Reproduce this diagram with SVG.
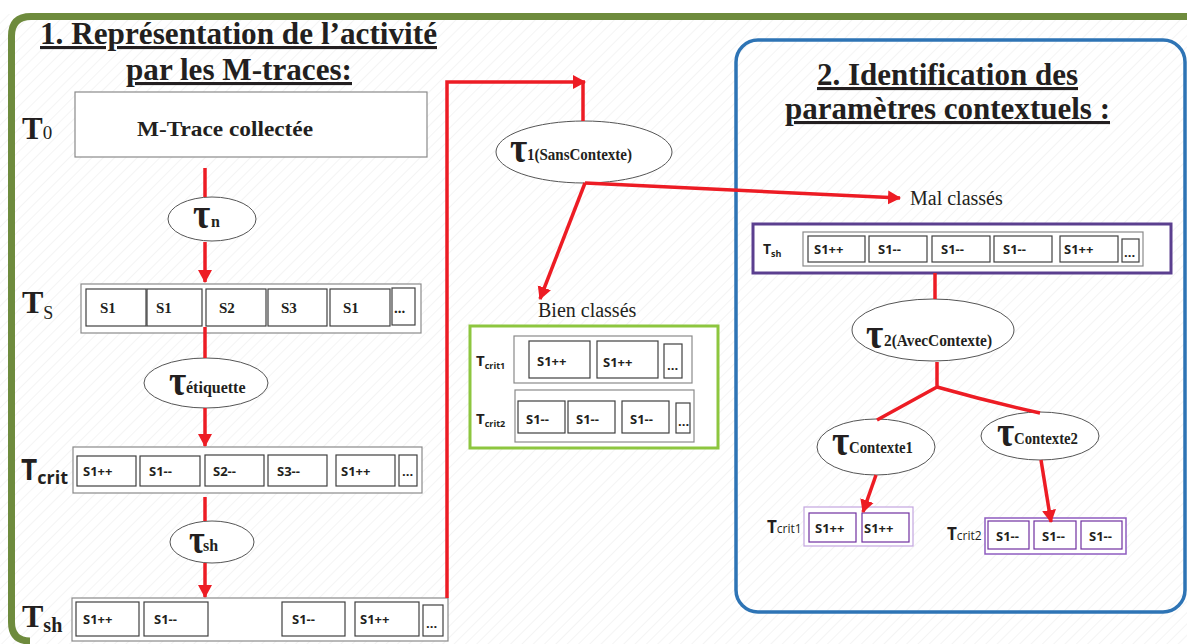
<svg xmlns="http://www.w3.org/2000/svg" width="1187" height="644" viewBox="0 0 1187 644">
<defs>
<pattern id="hatch" width="8" height="8" patternUnits="userSpaceOnUse" patternTransform="rotate(45)">
<line x1="0" y1="0" x2="0" y2="8" stroke="#e4e4e4" stroke-width="0.8"/>
</pattern>
<marker id="arr" markerWidth="16" markerHeight="16" refX="12" refY="8" orient="auto" markerUnits="userSpaceOnUse">
<path d="M0,1 L13,8 L0,15 Z" fill="#ed1c24"/>
</marker>
<style>
.title{font-family:"Liberation Serif",serif;font-weight:bold;font-size:31px;fill:#231f20;text-decoration:underline}
.ser{font-family:"Liberation Serif",serif;fill:#231f20}
.b{font-weight:bold}
.sans{font-family:"Open Sans","Liberation Sans",sans-serif;fill:#231f20}
.cell{fill:#fff;stroke:#404040;stroke-width:1.2}
.outer{fill:#fff;stroke:#8a8a8a;stroke-width:1.2}
.ct{font-family:"Open Sans","Liberation Sans",sans-serif;font-weight:bold;font-size:13px;fill:#231f20}
.ell{fill:#fff;stroke:#555;stroke-width:1}
.tau{font-family:"Liberation Serif",serif;font-weight:bold;font-size:34px;fill:#231f20}
.sub{font-family:"Liberation Serif",serif;font-weight:bold;font-size:16px;fill:#231f20}
.red{stroke:#ed1c24;stroke-width:3.5;fill:none}
</style>
</defs>
<rect x="0" y="0" width="1187" height="644" fill="#fff"/>
<rect x="0" y="14" width="1187" height="630" fill="url(#hatch)"/>

<path d="M30,641 Q11.5,641 11.5,622 V36 Q11.5,16.5 31,16.5 H1190" fill="none" stroke="#6e8b3d" stroke-width="7"/>
<rect x="736" y="40" width="449" height="572" rx="22" fill="none" stroke="#2e74b5" stroke-width="3.5"/>

<g id="title1">
<text class="title" x="40" y="44" textLength="397" lengthAdjust="spacingAndGlyphs">1. Représentation de l’activité</text>
<text class="title" x="126" y="80" textLength="226" lengthAdjust="spacingAndGlyphs">par les M-traces:</text>
</g>
<g id="title2">
<text class="title" x="817" y="85" textLength="261" lengthAdjust="spacingAndGlyphs">2. Identification des</text>
<text class="title" x="785" y="119" textLength="325" lengthAdjust="spacingAndGlyphs">paramètres contextuels :</text>
</g>

<g id="T0">
<rect class="outer" x="75" y="92" width="352" height="65"/>
<text class="ser b" x="137" y="136" font-size="22" textLength="176" lengthAdjust="spacingAndGlyphs">M-Trace collectée</text>
<text class="ser" x="22" y="139"><tspan class="b" font-size="31">T</tspan><tspan font-size="19">0</tspan></text>
</g>

<g id="tau_n">
<ellipse class="ell" cx="212" cy="219" rx="44" ry="22"/>
<text class="tau" transform="translate(193,228) scale(1.1,1.3)">τ</text>
<text class="sub" x="211" y="227" font-size="13">n</text>
</g>

<g id="Ts">
<rect class="outer" x="81" y="284" width="340" height="49"/>
<rect class="cell" x="86" y="289" width="60" height="37"/>
<rect class="cell" x="147" y="289" width="55" height="37"/>
<rect class="cell" x="206" y="289" width="60" height="37"/>
<rect class="cell" x="268" y="289" width="59" height="37"/>
<rect class="cell" x="330" y="289" width="60" height="37"/>
<rect class="cell" x="392" y="288" width="23" height="37"/>
<text class="ser b" font-size="15"><tspan x="100" y="313">S1</tspan><tspan x="156" y="313">S1</tspan><tspan x="219" y="313">S2</tspan><tspan x="281" y="313">S3</tspan><tspan x="343" y="313">S1</tspan><tspan x="394" y="313">...</tspan></text>
<text class="ser" x="22" y="313"><tspan class="b" font-size="32">T</tspan><tspan font-size="18" dy="6">S</tspan></text>
</g>

<g id="tau_etiquette">
<ellipse class="ell" cx="206" cy="383" rx="62" ry="25"/>
<text class="tau" transform="translate(169,395) scale(1.1,1.3)">τ</text>
<text class="sub" x="186" y="393" font-size="15">étiquette</text>
</g>

<g id="Tcrit">
<rect class="outer" x="73" y="447" width="349" height="46" stroke="#aaa"/>
<rect class="cell" x="77" y="456" width="59" height="30"/>
<rect class="cell" x="140" y="456" width="60" height="30"/>
<rect class="cell" x="205" y="455" width="59" height="31"/>
<rect class="cell" x="268" y="455" width="59" height="31"/>
<rect class="cell" x="336" y="455" width="59" height="31"/>
<rect class="cell" x="399" y="455" width="18" height="31"/>
<text class="ct"><tspan x="83" y="476">S1++</tspan><tspan x="149" y="476">S1--</tspan><tspan x="213" y="476">S2--</tspan><tspan x="277" y="476">S3--</tspan><tspan x="341" y="476">S1++</tspan><tspan x="402" y="476">...</tspan></text>
<text class="sans b" x="21" y="480"><tspan font-size="28">T</tspan><tspan font-size="18" dy="4">crit</tspan></text>
</g>

<g id="tau_sh">
<ellipse class="ell" cx="212" cy="542" rx="42" ry="21"/>
<text class="tau" transform="translate(189,553) scale(1.0,1.25)">τ</text>
<text class="sub" x="203" y="551" font-size="14">sh</text>
</g>

<g id="Tsh">
<rect class="outer" x="72" y="598" width="376" height="43"/>
<rect class="cell" x="76" y="602" width="63" height="34"/>
<rect class="cell" x="144" y="602" width="64" height="34"/>
<rect class="cell" x="282" y="602" width="63" height="34"/>
<rect class="cell" x="355" y="602" width="64" height="34"/>
<rect class="cell" x="423" y="605" width="20" height="31"/>
<text class="ct"><tspan x="83" y="624">S1++</tspan><tspan x="154" y="624">S1--</tspan><tspan x="292" y="624">S1--</tspan><tspan x="360" y="624">S1++</tspan><tspan x="426" y="628">...</tspan></text>
<text class="ser b" x="22" y="627"><tspan font-size="32">T</tspan><tspan font-size="20" dy="5">sh</tspan></text>
</g>

<g id="tau_1">
<ellipse class="ell" cx="584" cy="152" rx="88" ry="31"/>
<text class="tau" transform="translate(510,162) scale(1.1,1.3)">τ</text>
<text class="sub" x="527" y="160" textLength="105" lengthAdjust="spacingAndGlyphs">1(SansContexte)</text>
</g>

<g id="bien_classes">
<text class="ser" x="538" y="317" font-size="20">Bien classés</text>
<rect x="470" y="326" width="248" height="122" fill="#fff" stroke="#8dc63f" stroke-width="3"/>
<rect class="outer" x="514" y="336" width="178" height="47"/>
<rect class="cell" x="529" y="341" width="61" height="37"/>
<rect class="cell" x="597" y="341" width="61" height="37"/>
<rect class="cell" x="664" y="344" width="18" height="34"/>
<rect class="outer" x="515" y="390" width="179" height="52"/>
<rect class="cell" x="518" y="401" width="47" height="32"/>
<rect class="cell" x="568" y="401" width="47" height="32"/>
<rect class="cell" x="622" y="401" width="47" height="32"/>
<rect class="cell" x="676" y="403" width="14" height="30"/>
<text class="ct" font-size="14"><tspan x="537" y="366">S1++</tspan><tspan x="603" y="367">S1++</tspan><tspan x="667" y="370">...</tspan><tspan x="526" y="424">S1--</tspan><tspan x="576" y="424">S1--</tspan><tspan x="630" y="424">S1--</tspan><tspan x="678" y="426">...</tspan></text>
<text class="sans b" x="476" y="366"><tspan font-size="15">T</tspan><tspan font-size="9" dy="3">crit1</tspan></text>
<text class="sans b" x="476" y="424"><tspan font-size="15">T</tspan><tspan font-size="9" dy="3">crit2</tspan></text>
</g>

<g id="mal_classes">
<text class="ser" x="910" y="205" font-size="20">Mal classés</text>
<rect x="753" y="224" width="418" height="49" fill="#fff" stroke="#5b3f8f" stroke-width="3"/>
<rect class="outer" x="803" y="232" width="340" height="34"/>
<rect class="cell" x="808" y="236" width="57" height="26"/>
<rect class="cell" x="869" y="236" width="58" height="26"/>
<rect class="cell" x="932" y="236" width="58" height="26"/>
<rect class="cell" x="994" y="236" width="58" height="26"/>
<rect class="cell" x="1060" y="236" width="58" height="26"/>
<rect class="cell" x="1122" y="239" width="17" height="23"/>
<text class="ct"><tspan x="814" y="254">S1++</tspan><tspan x="878" y="254">S1--</tspan><tspan x="941" y="254">S1--</tspan><tspan x="1003" y="254">S1--</tspan><tspan x="1064" y="254">S1++</tspan><tspan x="1124" y="257">...</tspan></text>
<text class="sans b" x="763" y="254"><tspan font-size="14">T</tspan><tspan font-size="9" dy="3">sh</tspan></text>
</g>

<g id="tau_2">
<ellipse class="ell" cx="933" cy="330" rx="81" ry="31"/>
<text class="tau" transform="translate(866,348) scale(1.1,1.3)">τ</text>
<text class="sub" x="884" y="346" textLength="108" lengthAdjust="spacingAndGlyphs">2(AvecContexte)</text>
</g>

<g id="tau_ctx1">
<ellipse class="ell" cx="876" cy="447" rx="59" ry="28"/>
<text class="tau" transform="translate(832,455) scale(1.1,1.3)">τ</text>
<text class="sub" x="849" y="453" textLength="64" lengthAdjust="spacingAndGlyphs">Contexte1</text>
</g>

<g id="tau_ctx2">
<ellipse class="ell" cx="1040" cy="436" rx="59" ry="24"/>
<text class="tau" transform="translate(997,446) scale(1.1,1.3)">τ</text>
<text class="sub" x="1014" y="444" textLength="64" lengthAdjust="spacingAndGlyphs">Contexte2</text>
</g>

<g id="Tcrit1_r">
<rect x="804" y="507" width="109" height="39" fill="#fff" stroke="#c3a6df" stroke-width="1.2"/>
<rect x="809" y="513" width="47" height="29" fill="#fff" stroke="#7030a0" stroke-width="1.2"/>
<rect x="862" y="513" width="47" height="29" fill="#fff" stroke="#7030a0" stroke-width="1.2"/>
<text class="ct" font-size="14"><tspan x="815" y="533">S1++</tspan><tspan x="864" y="533">S1++</tspan></text>
<text class="sans" x="767" y="533"><tspan class="b" font-size="17">T</tspan><tspan font-size="12">crit1</tspan></text>
</g>

<g id="Tcrit2_r">
<rect x="985" y="518" width="141" height="36" fill="#fff" stroke="#8e5cc0" stroke-width="1.5"/>
<rect x="988" y="521" width="41" height="28" fill="#fff" stroke="#7030a0" stroke-width="1.2"/>
<rect x="1034" y="521" width="42" height="28" fill="#fff" stroke="#7030a0" stroke-width="1.2"/>
<rect x="1081" y="521" width="41" height="28" fill="#fff" stroke="#7030a0" stroke-width="1.2"/>
<text class="ct" font-size="14"><tspan x="996" y="541">S1--</tspan><tspan x="1042" y="541">S1--</tspan><tspan x="1089" y="541">S1--</tspan></text>
<text class="sans" x="947" y="540"><tspan class="b" font-size="17">T</tspan><tspan font-size="12">crit2</tspan></text>
</g>

<g id="connectors">
<line class="red" x1="205" y1="168" x2="205" y2="197"/>
<line class="red" x1="205" y1="242" x2="205" y2="282" marker-end="url(#arr)"/>
<line class="red" x1="205" y1="327" x2="205" y2="358"/>
<line class="red" x1="205" y1="408" x2="205" y2="446" marker-end="url(#arr)"/>
<line class="red" x1="205" y1="497" x2="205" y2="521"/>
<line class="red" x1="205" y1="563" x2="205" y2="597" marker-end="url(#arr)"/>
<polyline class="red" points="447,598 447,82 585,82" marker-end="url(#arr)"/>
<line class="red" x1="583" y1="82" x2="583" y2="121"/>
<line class="red" x1="585" y1="183" x2="540" y2="299" marker-end="url(#arr)"/>
<line class="red" x1="585" y1="183" x2="900" y2="198" marker-end="url(#arr)"/>
<line class="red" x1="935" y1="273" x2="935" y2="299"/>
<polyline class="red" points="937,362 937,387 877,420"/>
<path class="red" d="M937,387 Q990,402 1040,413"/>
<line class="red" x1="876" y1="475" x2="863" y2="512" marker-end="url(#arr)"/>
<line class="red" x1="1041" y1="460" x2="1051" y2="522" marker-end="url(#arr)"/>
</g>
</svg>
